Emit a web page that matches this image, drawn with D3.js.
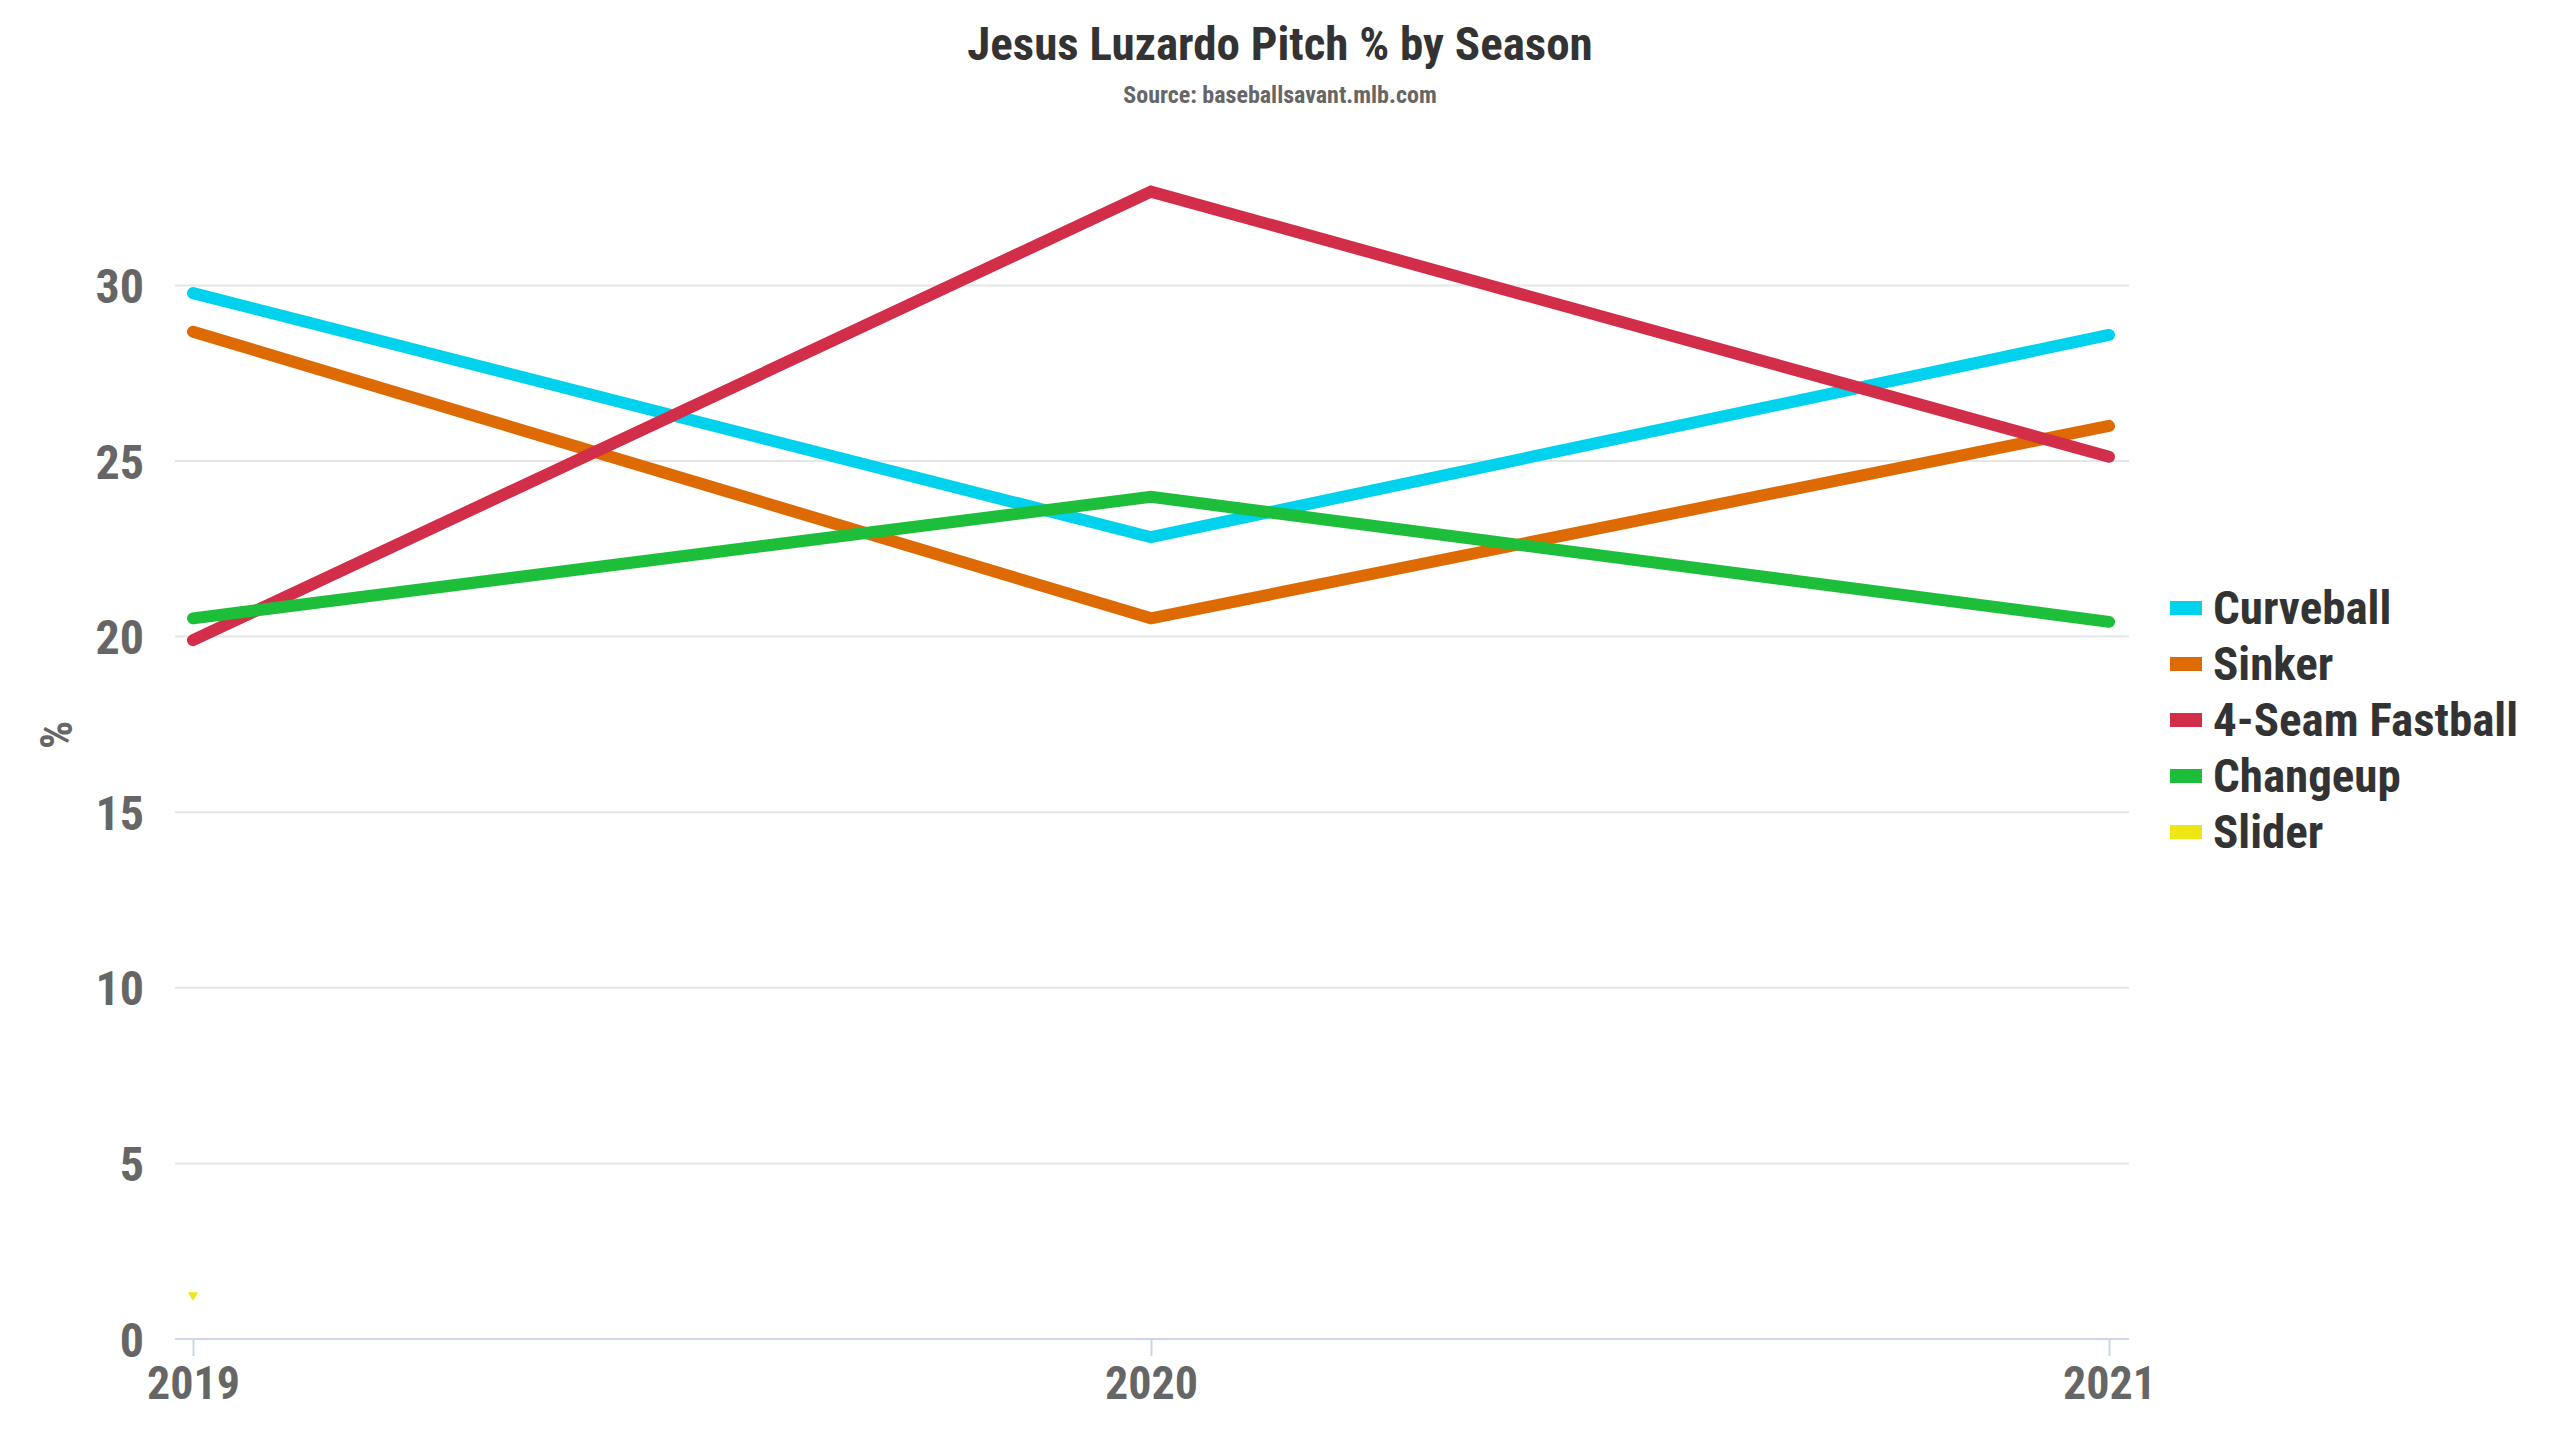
<!DOCTYPE html>
<html>
<head>
<meta charset="utf-8">
<script src="https://cdn.jsdelivr.net/npm/d3@7"></script>
<style>
  html, body { margin: 0; padding: 0; background: #fff; }
  svg text { font-family: "Roboto Condensed", Roboto, "Liberation Sans Narrow", sans-serif; font-weight: 700; }
</style>
</head>
<body>
<svg id="chart" width="2560" height="1440"></svg>
<script>
// ---- data ----
const seasons = ["2019", "2020", "2021"];
const pitchNames = ["Curveball", "Sinker", "4-Seam Fastball", "Changeup", "Slider"];
const curveball = [29.78, 22.83, 28.59];
const sinker = [28.68, 20.52, 26.0];
const fastball = [19.9, 32.67, 25.12];
const changeup = [20.52, 23.98, 20.42];
const slider = [1.25, null, null];
const pitchColors = ["#00d1ed", "#de6a04", "#d22d49", "#1dbe3a", "#eee716"];
const yTicks = [0, 5, 10, 15, 20, 25, 30];
const titleText = "Jesus Luzardo Pitch % by Season";
const subtitleText = "Source: baseballsavant.mlb.com";
const yAxisTitle = "%";

const seriesValues = [curveball, sinker, fastball, changeup, slider];

const svg = d3.select("#chart");

// measure font to condense (reference uses a condensed face)
const probe = svg.append("text").attr("font-size", 46).text("4-Seam Fastball");
const measured = probe.node().getComputedTextLength();
probe.remove();
const s = Math.min(1, 320 / measured);

function ctext(g, x, y, str, size, color, anchor, rotate) {
  return g.append("text")
    .attr("transform", `translate(${x},${y})` + (rotate ? ` rotate(${rotate})` : "") + ` scale(${s},1)`)
    .attr("font-size", size)
    .attr("fill", color)
    .attr("text-anchor", anchor || "start")
    .text(str);
}

// scales
const plotLeft = 175, plotRight = 2129;
const x = d3.scalePoint().domain(seasons).range([193, 2109]);
const y = d3.scaleLinear().domain([0, 30]).range([1339, 285.4]);

// grid lines
const grid = svg.append("g");
grid.selectAll("line").data(yTicks.filter(d => d !== 0)).join("line")
  .attr("x1", plotLeft).attr("x2", plotRight)
  .attr("y1", d => y(d)).attr("y2", d => y(d))
  .attr("stroke", "#e6e6e6").attr("stroke-width", 2);

// y axis labels
const yAxis = svg.append("g").attr("transform", `translate(${plotLeft},0)`)
  .call(d3.axisLeft(y).tickValues(yTicks).tickSize(0).tickPadding(0).tickFormat(d3.format("d")));
yAxis.select(".domain").remove();
yAxis.selectAll(".tick text").remove();
yAxis.selectAll(".tick").each(function(d) {
  ctext(d3.select(this), -31, 17, String(d), 48, "#666666", "end");
});

// x axis
const xAxis = svg.append("g").attr("transform", `translate(0,${y(0)})`)
  .call(d3.axisBottom(x).tickSize(17).tickPadding(0));
xAxis.select(".domain").remove();
xAxis.append("line").attr("x1", plotLeft).attr("x2", plotRight).attr("y1", 0).attr("y2", 0)
  .attr("stroke", "#ccd6eb").attr("stroke-width", 2);
xAxis.selectAll(".tick line").attr("stroke", "#ccd6eb").attr("stroke-width", 2);
xAxis.selectAll(".tick text").remove();
xAxis.selectAll(".tick").each(function(d) {
  ctext(d3.select(this), 0, 60, d, 46, "#666666", "middle");
});

// y axis title
ctext(svg, 72, 735, yAxisTitle, 44, "#666666", "middle", -90);

// lines
const line = d3.line()
  .defined(d => d.v !== null)
  .x(d => x(d.season))
  .y(d => y(d.v));

const linesG = svg.append("g");
seriesValues.forEach((vals, i) => {
  const pts = seasons.map((season, j) => ({ season, v: vals[j] }));
  const defined = pts.filter(p => p.v !== null);
  if (defined.length > 1) {
    linesG.append("path")
      .datum(pts)
      .attr("d", line)
      .attr("fill", "none")
      .attr("stroke", pitchColors[i])
      .attr("stroke-width", 12)
      .attr("stroke-linecap", "round")
      .attr("stroke-linejoin", "miter");
  } else {
    linesG.selectAll(null).data(defined).join("path")
      .attr("d", d3.symbol(d3.symbolTriangle, 45)())
      .attr("transform", d => `translate(${x(d.season)},${y(d.v)}) rotate(180)`)
      .attr("fill", pitchColors[i]);
  }
});

// title
ctext(svg, 1280, 60, titleText, 47, "#333333", "middle");
ctext(svg, 1280, 103, subtitleText, 24, "#666666", "middle");

// legend
const legend = svg.append("g");
pitchNames.forEach((name, i) => {
  const cy = 608 + i * 56;
  legend.append("rect").attr("x", 2170).attr("y", cy - 7).attr("width", 32).attr("height", 14)
    .attr("fill", pitchColors[i]);
  ctext(legend, 2213, cy + 16, name, 47, "#333333", "start");
});
</script>
</body>
</html>
